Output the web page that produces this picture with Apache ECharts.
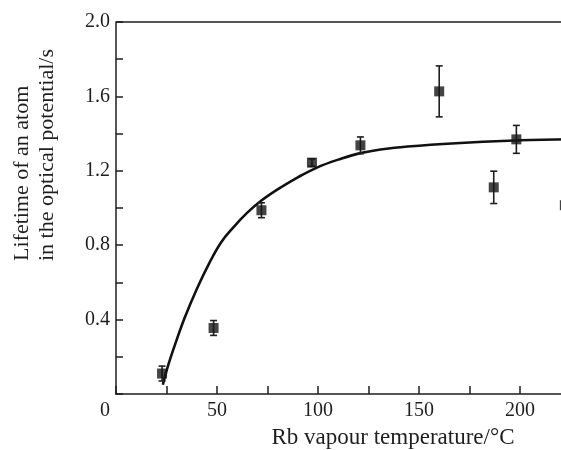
<!DOCTYPE html>
<html><head><meta charset="utf-8">
<script src="https://cdn.jsdelivr.net/npm/echarts@6/dist/echarts.min.js"></script>
<style>html,body{margin:0;padding:0;overflow:hidden;background:#fff;width:561px;height:450px}#c{position:absolute;left:0;top:0;width:630px;height:450px}</style>
</head><body><div id="c"></div>
<script>
// measured points (Rb vapour temperature, lifetime) with error half-widths
const temps = [22.8, 48.3, 72, 97, 121, 160, 187, 198.2, 222.2];
const lifetimes = [0.11, 0.355, 0.988, 1.244, 1.337, 1.627, 1.111, 1.369, 1.015];
const errors = [0.04, 0.04, 0.04, 0.02, 0.045, 0.137, 0.087, 0.075, 0.04];
// fitted curve
const curveX = [23.2, 26, 30, 34, 40, 46, 52, 58, 65, 72, 80, 90, 100, 110, 121, 135, 150, 175, 200, 225, 250];
const curveY = [0.05, 0.16, 0.29, 0.41, 0.565, 0.70, 0.815, 0.895, 0.975, 1.04, 1.10, 1.165, 1.22, 1.26, 1.295, 1.32, 1.335, 1.352, 1.364, 1.37, 1.372];

const font = 'Liberation Serif';
const ink = '#1e1e1e';
const chart = echarts.init(document.getElementById('c'), null, {width: 630, height: 450});
const pts = temps.map((t, i) => [t, lifetimes[i], errors[i]]);
chart.setOption({
  animation: false,
  grid: {left: 116, width: 505, top: 22, height: 372, containLabel: false, outerBoundsMode: 'none'},
  xAxis: {
    type: 'value', min: 0, max: 250, interval: 25,
    axisLine: {show: true, onZero: false, lineStyle: {color: ink, width: 1.5}},
    axisTick: {show: true, inside: true, length: 8, lineStyle: {color: ink, width: 1.5}},
    splitLine: {show: false},
    axisLabel: {
      color: ink, fontFamily: font, fontSize: 20, margin: 7,
      formatter: v => v === 0 ? '{o|0}' : (v % 50 === 0 ? String(v) : ''),
      rich: {o: {fontFamily: font, fontSize: 20, color: ink, padding: [0, 22, 0, 0]}}
    }
  },
  yAxis: {
    type: 'value', min: 0, max: 2.0, interval: 0.2,
    axisLine: {show: true, lineStyle: {color: ink, width: 1.5}},
    axisTick: {show: true, inside: true, length: 7, lineStyle: {color: ink, width: 1.5}},
    splitLine: {show: false},
    axisLabel: {
      color: ink, fontFamily: font, fontSize: 20, margin: 6,
      formatter: v => {
        const k = Math.round(v * 10);
        if (k === 0 || k % 4 !== 0) return '';
        return (k / 10).toFixed(1);
      }
    }
  },
  graphic: [
    {type: 'line', shape: {x1: 116, y1: 22, x2: 630, y2: 22}, style: {stroke: ink, lineWidth: 1.5}, z: 10},
    {type: 'text', x: 393, y: 438, style: {text: 'Rb vapour temperature/°C', font: '23px "Liberation Serif"', fill: ink, textAlign: 'center', textVerticalAlign: 'middle'}},
    {type: 'text', x: 22, y: 261, rotation: Math.PI / 2, style: {text: 'Lifetime of an atom', font: '22px "Liberation Serif"', fill: ink, textAlign: 'left', textVerticalAlign: 'middle'}},
    {type: 'text', x: 47, y: 261, rotation: Math.PI / 2, style: {text: 'in the optical potential/s', font: '22px "Liberation Serif"', fill: ink, textAlign: 'left', textVerticalAlign: 'middle'}}
  ],
  series: [
    {type: 'line', data: curveX.map((x, i) => [x, curveY[i]]), smooth: 0.4, showSymbol: false, symbol: 'none',
     lineStyle: {color: '#111', width: 2.6}, z: 2},
    {type: 'custom', data: pts, z: 3,
     renderItem: (params, api) => {
       const x = api.value(0), y = api.value(1), e = api.value(2);
       const top = api.coord([x, y + e]), bot = api.coord([x, y - e]);
       const cap = 3.5;
       return {type: 'group', children: [
         {type: 'line', shape: {x1: top[0], y1: top[1], x2: bot[0], y2: bot[1]}, style: {stroke: ink, lineWidth: 1.6}},
         {type: 'line', shape: {x1: top[0] - cap, y1: top[1], x2: top[0] + cap, y2: top[1]}, style: {stroke: ink, lineWidth: 1.6}},
         {type: 'line', shape: {x1: bot[0] - cap, y1: bot[1], x2: bot[0] + cap, y2: bot[1]}, style: {stroke: ink, lineWidth: 1.6}}
       ]};
     }},
    {type: 'scatter', data: pts.map(p => [p[0], p[1]]), symbol: 'rect', symbolSize: 10,
     itemStyle: {color: '#151515'}, z: 4}
  ]
});
</script></body></html>
